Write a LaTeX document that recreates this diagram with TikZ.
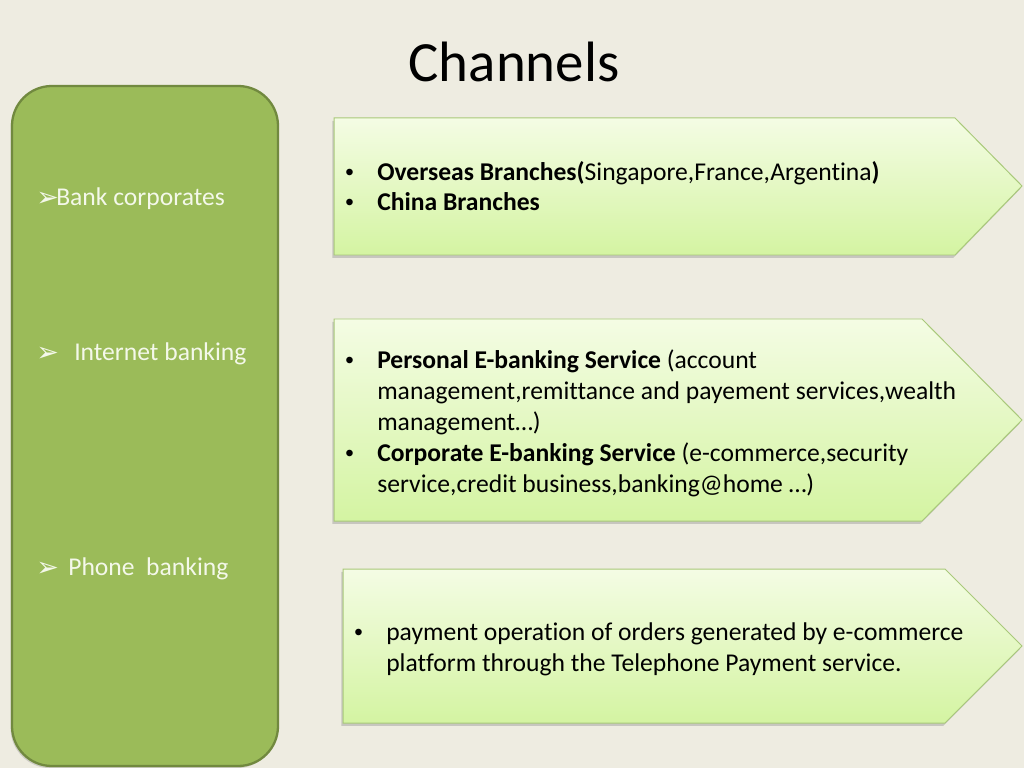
\documentclass[tikz,border=0pt]{standalone}
\usepackage{fontspec}
\setmainfont{Carlito}[Ligatures=NoCommon]
\newfontfamily\dejavu{DejaVu Sans}
\newfontfamily\libsans{Liberation Sans}
\usetikzlibrary{shadows}
\definecolor{bg}{HTML}{EEECE1}
\definecolor{panel}{HTML}{9BBB59}
\definecolor{panelborder}{HTML}{71893F}
\definecolor{arrowtop}{HTML}{F4FCE4}
\definecolor{arrowbot}{HTML}{D4F4A2}
\definecolor{arrowborder}{HTML}{A9C97A}
\definecolor{paneltext}{HTML}{F4F8EA}
\tikzset{
  panelbox/.style={fill=panel, draw=panelborder, line width=1.6pt,
    drop shadow={shadow xshift=-1pt, shadow yshift=-1.5pt, opacity=0.3}},
  arrowbox/.style={top color=arrowtop, bottom color=arrowbot, draw=arrowborder, line width=0.7pt,
    drop shadow={shadow xshift=-1.2pt, shadow yshift=-2pt, opacity=0.35}},
  paneltxt/.style={anchor=base west, inner sep=0pt, text=paneltext, font=\fontsize{18}{21.8}\selectfont},
  bodytxt/.style={anchor=base west, inner sep=0pt, text=black, font=\fontsize{18}{21.8}\selectfont},
  bul/.style={anchor=base west, inner sep=0pt, text=black, font=\libsans\fontsize{17}{20}\selectfont},
  pbul/.style={anchor=base west, inner sep=0pt, text=paneltext, font=\dejavu\fontsize{19}{22}\selectfont},
}
\begin{document}
\begin{tikzpicture}[x=0.703125pt,y=-0.703125pt]
\fill[bg] (0,0) rectangle (1024,768);
\useasboundingbox (0,0) rectangle (1024,768);

% title
\node[anchor=base, inner sep=0pt, font=\fontsize{40}{48}\selectfont] (title) at (514,82) {Channels};

% left panel
\path[panelbox, rounded corners=28pt] (12,86) rectangle (278,766);
\node[pbul] (b1) at (36,207) {➢};
\node[paneltxt] (t1) at (56,206) {Bank corporates};
\node[pbul] (b2) at (36,361) {➢};
\node[paneltxt] (t2) at (74,360) {Internet banking};
\node[pbul] (b3) at (36,576) {➢};
\node[paneltxt] (t3) at (68,575) {Phone\ \ banking};

% arrow 1
\path[arrowbox] (334,118) -- (955,118) -- (1022,186) -- (955,255) -- (334,255) -- cycle;
\node[bul] (a1b1) at (345,181) {•};
\node[bodytxt] (a1l1) at (377,181) {\textbf{Overseas Branches(}Singapore,France,Argentina\textbf{)}};
\node[bul] (a1b2) at (345,211) {•};
\node[bodytxt] (a1l2) at (377,211) {\textbf{China Branches}};

% arrow 2
\path[arrowbox] (334,319) -- (922,319) -- (1022,420) -- (922,521) -- (334,521) -- cycle;
\node[bul] (a2b1) at (345,368) {•};
\node[bodytxt] (a2l1) at (377,368) {\textbf{Personal E-banking Service} (account};
\node[bodytxt] (a2l2) at (377,399) {management,remittance and payement services,wealth};
\node[bodytxt] (a2l3) at (377,430) {management…)};
\node[bul] (a2b2) at (345,461) {•};
\node[bodytxt] (a2l4) at (377,461) {\textbf{Corporate E-banking Service} (e-commerce,security};
\node[bodytxt] (a2l5) at (377,492) {service,credit business,banking@home …)};

% arrow 3
\path[arrowbox] (343,569) -- (945,569) -- (1022,646) -- (945,723) -- (343,723) -- cycle;
\node[bul] (a3b1) at (354,640) {•};
\node[bodytxt] (a3l1) at (386,640) {payment operation of orders generated by e-commerce};
\node[bodytxt] (a3l2) at (386,671) {platform through the Telephone Payment service.};
\end{tikzpicture}
\end{document}
